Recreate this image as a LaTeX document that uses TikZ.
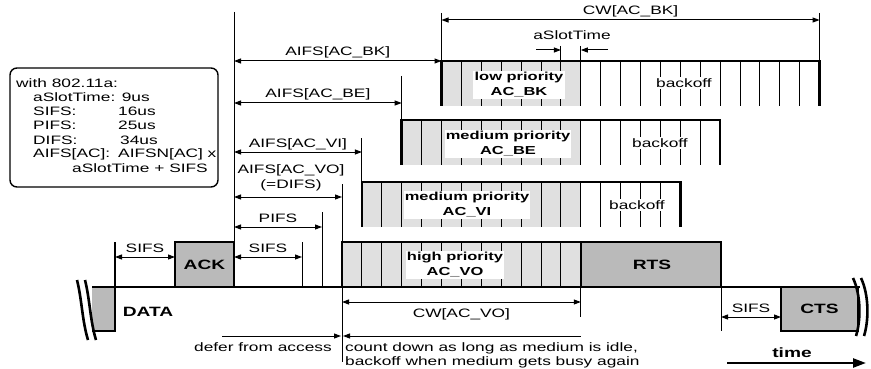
\documentclass[tikz,border=0pt]{standalone}
\usepackage{fontspec}
\setmainfont{Liberation Sans}[FakeStretch=1.42]
\usetikzlibrary{arrows.meta}

\begin{document}
\begin{tikzpicture}[
x=1pt, y=-1pt,
thinln/.style={line width=1pt},
thickln/.style={line width=2.6pt},
boxln/.style={line width=1.4pt},
dim/.style={thinln, {Triangle[length=7pt,width=5pt]}-{Triangle[length=7pt,width=5pt]}},
oneway/.style={thinln, -{Triangle[length=7pt,width=5pt]}},
txt/.style={font=\fontsize{12.2}{13}\selectfont, inner sep=0pt},
lbl/.style={txt, midway, anchor=base, yshift=5pt},
lblbelow/.style={txt, midway, anchor=base, yshift=-15pt},
frametxt/.style={font=\fontsize{13.5}{15}\selectfont\bfseries, inner sep=0pt},
priotxt/.style={font=\fontsize{11.6}{15}\selectfont\bfseries, fill=white, align=center, inner xsep=1.2pt, inner ysep=2pt},
bofftxt/.style={txt, fill=white, inner sep=1.5pt},
frame/.style={fill=black!27, draw, boxln},
slotgray/.style={fill=black!12}
]
\useasboundingbox (0,0) rectangle (871,369);

% 802.11a parameters
\draw[boxln, rounded corners=7pt] (10,68) rectangle (218,187);
\begin{scope}[every node/.style={txt, anchor=west}]
\node (par-std) at (16,83) {with 802.11a:};
\node (par-slot) at (33,97.5) {aSlotTime: 9us};
\node (par-sifs) at (33,111.5) {SIFS:};
\node (par-sifs-v) at (118,111.5) {16us};
\node (par-pifs) at (33,125.5) {PIFS:};
\node (par-pifs-v) at (118,125.5) {25us};
\node (par-difs) at (33,140) {DIFS:};
\node (par-difs-v) at (120,140) {34us};
\node (par-aifs) at (33,154) {AIFS[AC]:};
\node (par-aifs-v) at (118,154) {AIFSN[AC] x};
\node (par-aifs-v2) at (72,168) {aSlotTime + SIFS};
\end{scope}

% AC_BK
\fill[slotgray] (441.5,61) rectangle (580.8,106);
\foreach \k in {6,...,23}
	\draw[thinln] ({342+19.9*\k},61) -- ({342+19.9*\k},106);
\draw[thinln] (560.9,46) -- (560.9,61) (580.8,46) -- (580.8,61);
\draw[thickln] (441.5,106) -- (441.5,61) -- (819.6,61) -- (819.6,106);
\node[priotxt] (bk) at (519,85) {low priority\\AC\_BK};
\node[bofftxt] (bk-boff) at (684,83) {backoff};

% AC_BE
\fill[slotgray] (401.7,120) rectangle (580.8,165);
\foreach \k in {4,...,18}
	\draw[thinln] ({342+19.9*\k},120) -- ({342+19.9*\k},165);
\draw[thickln] (401.7,165) -- (401.7,120) -- (720.1,120) -- (720.1,165);
\node[priotxt] (be) at (508,144) {medium priority\\AC\_BE};
\node[bofftxt] (be-boff) at (660,143) {backoff};

% AC_VI
\fill[slotgray] (361.9,182) rectangle (580.8,227);
\foreach \k in {2,...,16}
	\draw[thinln] ({342+19.9*\k},182) -- ({342+19.9*\k},227);
\draw[thickln] (361.9,227) -- (361.9,182) -- (680.3,182) -- (680.3,227);
\node[priotxt] (vi) at (467,205) {medium priority\\AC\_VI};
\node[bofftxt] (vi-boff) at (637,205) {backoff};

% AC_VO
\fill[slotgray] (342,242) rectangle (580.8,287);
\foreach \k in {1,...,11}
	\draw[thinln] ({342+19.9*\k},242) -- ({342+19.9*\k},287);
\draw[boxln] (342,287) -- (342,242) -- (580.8,242);
\node[priotxt] (vo) at (455,265) {high priority\\AC\_VO};

% frames on the medium
\fill[black!27] (92,287) rectangle (115,331);
\draw[boxln] (92,331) -- (115,331) -- (115,242);
\node[frametxt] (data) at (148,312) {DATA};
\draw[frame] (175,242) rectangle (234,287);
\node[frametxt] (ack) at (204.5,264.5) {ACK};
\draw[frame] (580.8,242) rectangle (721,287);
\node[frametxt] (rts) at (652,264.5) {RTS};
\draw[frame] (781,287) rectangle (858,331);
\node[frametxt] (cts) at (819.5,309) {CTS};
\draw[boxln] (92,287) -- (860,287);
\draw[thickln] (77,280) .. controls (82,300) and (82,320) .. (88,340);
\draw[thickln] (85,280) .. controls (90,300) and (90,320) .. (96,340);
\draw[thickln] (853,278) .. controls (861,295) and (861,320) .. (856,336);
\draw[thickln] (861,278) .. controls (869,295) and (869,320) .. (864,336);

% time marks
\draw[thinln] (234,12) -- (234,287);
\draw[thinln] (441.5,13) -- (441.5,61) (819.6,13) -- (819.6,61);
\draw[thinln] (401.7,76) -- (401.7,120);
\draw[thinln] (361.9,138) -- (361.9,182);
\draw[thinln] (342,184) -- (342,242) (342,287) -- (342,362);
\draw[thinln] (322,212) -- (322,287);
\draw[thinln] (302,242) -- (302,287);
\draw[thinln] (580.8,287) -- (580.8,317);
\draw[thinln] (721,287) -- (721,331);

% intervals
\draw[dim] (441.5,20) -- (819.6,20) node[lbl] (cw-bk) {CW[AC\_BK]};
\node[txt] (slot-lbl) at (572,35) {aSlotTime};
\draw[oneway] (536,50) -- (560.9,50);
\draw[oneway] (608,50) -- (580.8,50);
\draw[dim] (234,61) -- (441.5,61) node[lbl] (aifs-bk) {AIFS[AC\_BK]};
\draw[dim] (234,103) -- (401.7,103) node[lbl] (aifs-be) {AIFS[AC\_BE]};
\draw[dim] (234,152) -- (361.9,152) node[lbl] (aifs-vi) {AIFS[AC\_VI]};
\node[txt, font=\fontsize{12.2}{15}\selectfont, align=center] (aifs-vo) at (291,177.5) {AIFS[AC\_VO]\\(=DIFS)};
\draw[dim] (234,197) -- (342,197);
\draw[dim] (234,227) -- (322,227) node[lbl] (pifs) {PIFS};
\draw[dim] (234,257) -- (302,257) node[lbl] (sifs-b) {SIFS};
\draw[dim] (115,257) -- (175,257) node[lbl] (sifs-a) {SIFS};
\draw[dim] (342,302) -- (580.8,302) node[lblbelow] (cw-vo) {CW[AC\_VO]};
\draw[dim] (721,317) -- (781,317) node[lbl] (sifs-c) {SIFS};

% defer and count down
\draw[oneway] (222,336) -- (341,336);
\draw[oneway] (580.8,336) -- (343,336);
\node[txt, anchor=base east] (defer) at (332,351) {defer from access};
\node[txt, anchor=base west] (count-1) at (345,351) {count down as long as medium is idle,};
\node[txt, anchor=base west] (count-2) at (345,365) {backoff when medium gets busy again};

\node[frametxt, anchor=base] (time) at (792,357) {time};
\draw[line width=2.4pt, -{Triangle[length=13pt,width=9pt]}] (727,363) -- (866,363);
\end{tikzpicture}
\end{document}
